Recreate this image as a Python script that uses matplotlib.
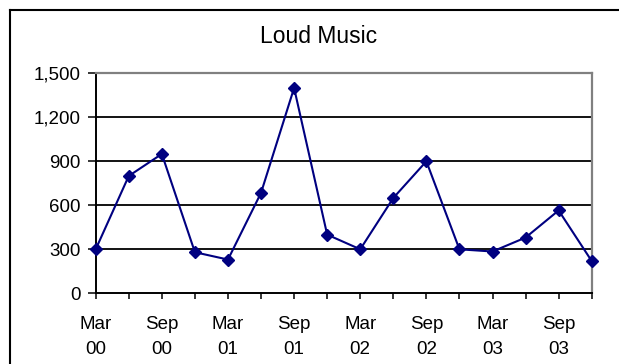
import matplotlib
matplotlib.use("Agg")
import matplotlib.pyplot as plt
from matplotlib.lines import Line2D

plt.rcParams['font.family'] = ['Liberation Sans', 'DejaVu Sans']

# Quarterly periods and values
quarters = ["Mar 00", "Jun 00", "Sep 00", "Dec 00",
            "Mar 01", "Jun 01", "Sep 01", "Dec 01",
            "Mar 02", "Jun 02", "Sep 02", "Dec 02",
            "Mar 03", "Jun 03", "Sep 03", "Dec 03"]
values = [300, 800, 950, 280, 230, 685, 1400, 400,
          300, 650, 900, 300, 285, 380, 565, 220]
tick_labels = ["Mar\n00", "", "Sep\n00", "", "Mar\n01", "", "Sep\n01", "",
               "Mar\n02", "", "Sep\n02", "", "Mar\n03", "", "Sep\n03", ""]
y_ticks = [0, 300, 600, 900, 1200, 1500]
title = "Loud Music"

W, H = 619, 364
fig = plt.figure(figsize=(W / 100, H / 100), dpi=100)
fig.patch.set_facecolor("white")

# Outer chart frame (left and top edges visible)
fig.add_artist(Line2D([9.5 / W, 9.5 / W], [0, 1 - 9.5 / H], transform=fig.transFigure,
                      color="black", lw=1.5, solid_capstyle="projecting"))
fig.add_artist(Line2D([9.5 / W, 1], [1 - 9.5 / H, 1 - 9.5 / H], transform=fig.transFigure,
                      color="black", lw=1.5, solid_capstyle="projecting"))

ax = fig.add_axes([95.7 / W, 1 - 293.3 / H, (591.7 - 95.7) / W, (293.3 - 73.3) / H])

x = list(range(len(quarters)))
ax.plot(x, values, color="#000080", lw=1.5, marker="D", markersize=6.2,
        markerfacecolor="#000080", markeredgecolor="#000080", zorder=3, clip_on=False)

ax.set_xlim(0, len(quarters) - 1)
ax.set_ylim(0, 1500)

ax.set_yticks(y_ticks)
ax.set_yticklabels([f"{v:,}" for v in y_ticks])
for v in y_ticks[1:-1]:
    ax.axhline(v, color="black", lw=1.3, zorder=1)

ax.set_xticks(x)
ax.set_xticklabels(tick_labels, linespacing=1.6)

ax.spines["left"].set_color("black")
ax.spines["left"].set_linewidth(1.4)
ax.spines["bottom"].set_color("black")
ax.spines["bottom"].set_linewidth(1.4)
ax.spines["top"].set_color("#808080")
ax.spines["top"].set_linewidth(1.6)
ax.spines["right"].set_color("#808080")
ax.spines["right"].set_linewidth(1.6)

ax.tick_params(axis="y", direction="out", length=6, width=1.1, pad=5,
               labelsize=13.5, colors="black")
ax.tick_params(axis="x", direction="out", length=4.3, width=1.1, pad=12,
               labelsize=13.5, colors="black")

fig.text(318.5 / W, 1 - 36.7 / H, title, ha="center", va="center", fontsize=16.5)

fig.savefig("out.png", dpi=100)
